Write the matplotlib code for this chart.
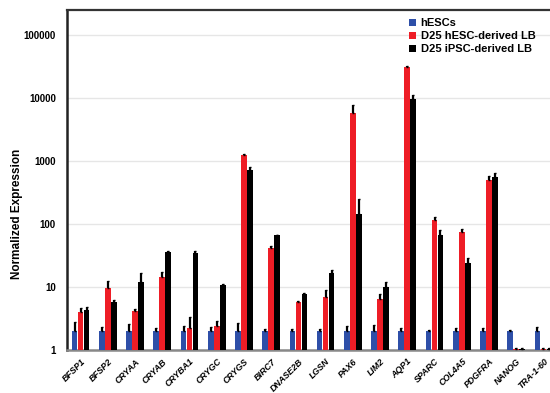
import matplotlib
matplotlib.use("Agg")
import matplotlib.pyplot as plt
import numpy as np

plt.rcParams['font.family'] = ['Liberation Sans', 'DejaVu Sans']

genes = ["BFSP1", "BFSP2", "CRYAA", "CRYAB", "CRYBA1", "CRYGC", "CRYGS", "BIRC7",
         "DNASE2B", "LGSN", "PAX6", "LIM2", "AQP1", "SPARC", "COL4A5", "PDGFRA",
         "NANOG", "TRA-1-60"]
hesc = [2, 2, 2, 2, 2, 2, 2, 2, 2, 2, 2, 2, 2, 2, 2, 2, 2, 2]
hesc_err = [0.8, 0.35, 0.6, 0.2, 0.4, 0.3, 0.65, 0.15, 0.15, 0.15, 0.4, 0.5, 0.2, 0.05, 0.2, 0.2, 0.05, 0.35]
hesc_lb = [4.05, 9.5, 4.2, 14.6, 2.2, 2.43, 1245, 41.6, 5.7, 6.9, 5720, 6.4, 31400, 114, 75.5, 500, 1.05, 1.04]
hesc_lb_err = [0.55, 3.1, 0.3, 2.4, 1.1, 0.45, 65, 3.4, 0.4, 2.1, 2000, 1.3, 1100, 17, 8.5, 85, 0.02, 0.02]
ipsc_lb = [4.3, 5.8, 11.9, 36.3, 35, 10.6, 720, 66, 7.8, 16.5, 144, 10.1, 9530, 66, 23.8, 563, 1.05, 1.05]
ipsc_lb_err = [0.6, 0.4, 5.0, 0.7, 2.0, 0.7, 70, 2, 0.3, 2.1, 103, 1.9, 1630, 13, 4.7, 72, 0.02, 0.03]
series_names = ["hESCs", "D25 hESC-derived LB", "D25 iPSC-derived LB"]
colors = ["#2E4FA8", "#EE1D26", "#000000"]
yticks = [1, 10, 100, 1000, 10000, 100000]

fig = plt.figure(figsize=(5.5, 3.93), dpi=100)
ax = fig.add_axes([67/550, 43/393, 490/550, 340/393])

x = np.arange(len(genes))
w = 0.205
off = 0.22
data = [(hesc, hesc_err), (hesc_lb, hesc_lb_err), (ipsc_lb, ipsc_lb_err)]
for i, ((vals, errs), c, name) in enumerate(zip(data, colors, series_names)):
    pos = x + (i - 1) * off
    ax.bar(pos, vals, width=w, color=c, label=name, zorder=3)
    ax.errorbar(pos, vals, yerr=[np.zeros(len(vals)), errs], fmt='none',
                ecolor='black', elinewidth=1.6, capsize=1.0, capthick=1.0, zorder=4)

ax.set_yscale('log')
ax.set_ylim(1, 2.5e5)
ax.set_xlim(-0.5, len(genes) - 0.5)
ax.set_yticks(yticks)
ax.set_yticklabels([str(t) for t in yticks], fontsize=7, fontweight='bold')
ax.yaxis.set_minor_locator(matplotlib.ticker.NullLocator())
ax.tick_params(axis='y', length=0, pad=8)
ax.set_xticks(x)
ax.set_xticklabels(genes, rotation=45, ha='right', rotation_mode='anchor',
                   fontsize=6.4, fontweight='bold', fontstyle='italic')
ax.tick_params(axis='x', length=0, pad=5)
ax.grid(axis='y', color='#e6e6e6', linewidth=1.0, zorder=0)
ax.set_axisbelow(True)
ax.set_ylabel("Normalized Expression", fontsize=8.5, fontweight='bold')
ax.yaxis.set_label_coords(-0.09, 0.40)

ax.spines['left'].set_linewidth(1.8)
ax.spines['left'].set_color('#222222')
ax.spines['top'].set_linewidth(1.6)
ax.spines['top'].set_color('#333333')
ax.spines['bottom'].set_linewidth(1.8)
ax.spines['bottom'].set_color('#888888')
ax.spines['right'].set_visible(False)

leg = ax.legend(loc='upper left', bbox_to_anchor=((405-67)/490, 1.0 - 4/340),
                frameon=False, fontsize=8, handlelength=0.6, handleheight=0.6,
                handletextpad=0.4, labelspacing=0.25, borderaxespad=0)
for t in leg.get_texts():
    t.set_fontweight('bold')

fig.savefig("out.png", dpi=100)
